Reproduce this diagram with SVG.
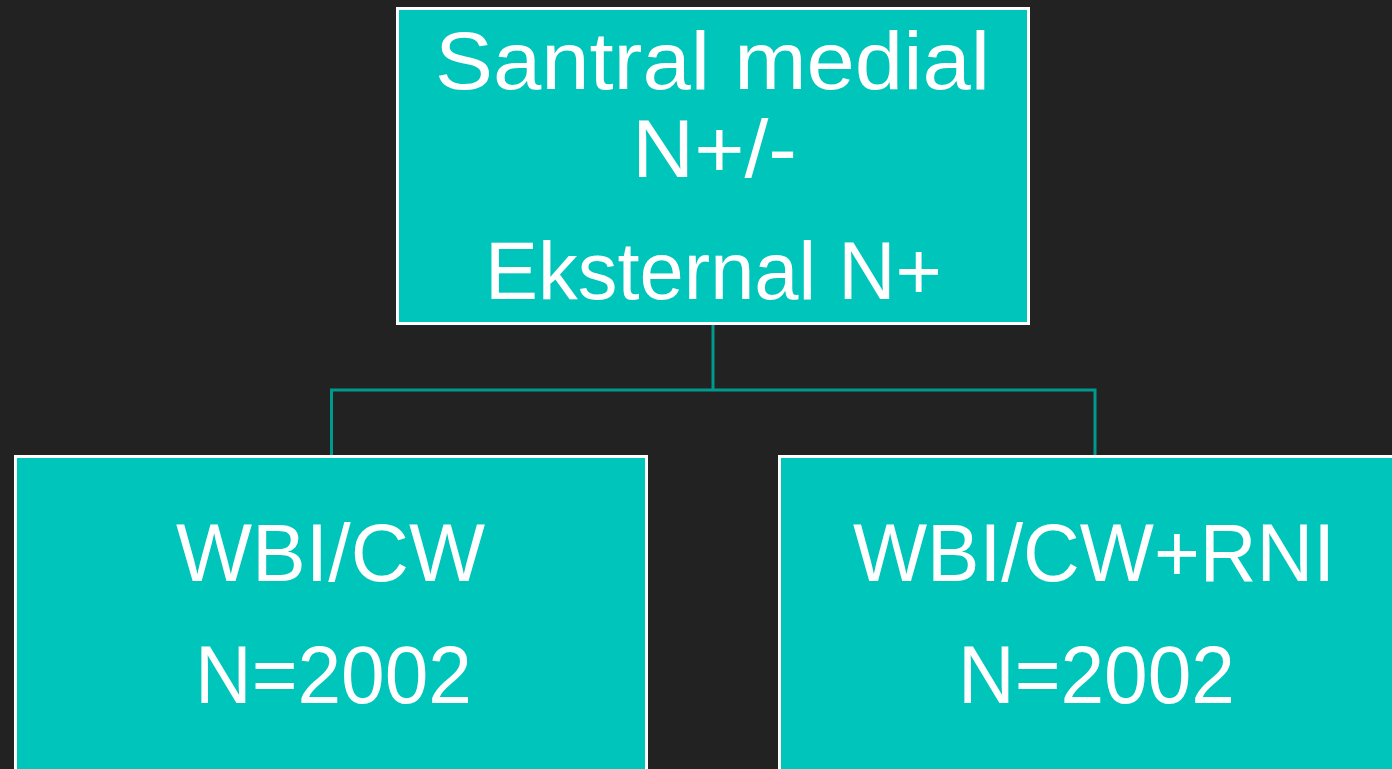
<svg xmlns="http://www.w3.org/2000/svg" width="1392" height="769" viewBox="0 0 1392 769">
<style>
.box{fill:#00C5BB;stroke:#FFFFFF;stroke-width:3}
.lbl{font-family:"Liberation Sans",Arial,sans-serif;font-size:81px;fill:#FFFFFF;text-anchor:middle}
.conn{fill:none;stroke:#00998D;stroke-width:3}
</style>
<rect x="0" y="0" width="1392" height="769" fill="#222222"/>
<g id="connectors">
<path class="conn" d="M713,325 V390 M331.5,456 V390 H1095 V456"/>
</g>
<g id="node-top">
<rect class="box" x="397.5" y="8.5" width="631" height="315"/>
<text class="lbl" x="712.5" y="89" textLength="555" lengthAdjust="spacingAndGlyphs">Santral medial</text>
<text class="lbl" x="714.5" y="177" textLength="165" lengthAdjust="spacingAndGlyphs">N+/-</text>
<text class="lbl" x="713.5" y="299" textLength="457" lengthAdjust="spacingAndGlyphs">Eksternal N+</text>
</g>
<g id="node-left">
<rect class="box" x="15.5" y="456.5" width="631" height="330"/>
<text class="lbl" x="330.5" y="581" textLength="309" lengthAdjust="spacingAndGlyphs">WBI/CW</text>
<text class="lbl" x="333.5" y="703" textLength="277" lengthAdjust="spacingAndGlyphs">N=2002</text>
</g>
<g id="node-right">
<rect class="box" x="779.5" y="456.5" width="631" height="330"/>
<text class="lbl" x="1094" y="581" textLength="482" lengthAdjust="spacingAndGlyphs">WBI/CW+RNI</text>
<text class="lbl" x="1096.5" y="703" textLength="277" lengthAdjust="spacingAndGlyphs">N=2002</text>
</g>
</svg>
